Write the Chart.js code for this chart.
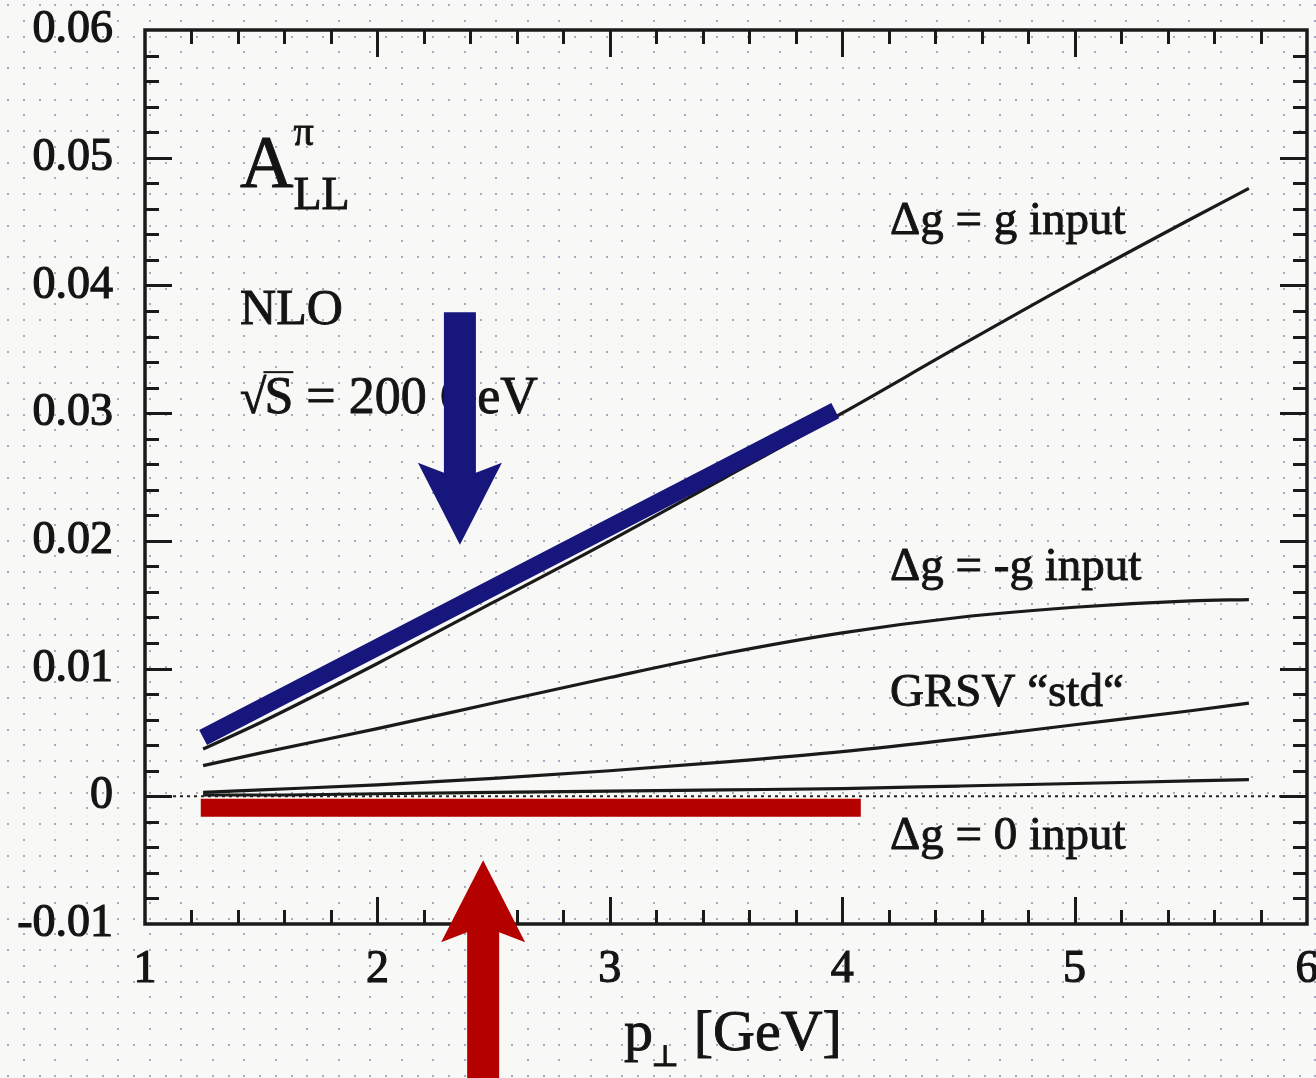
<!DOCTYPE html>
<html>
<head>
<meta charset="utf-8">
<script src="https://cdn.jsdelivr.net/npm/chart.js@4/dist/chart.umd.min.js"></script>
<style>
  html, body { margin: 0; padding: 0; background: #f8f8f6; }
  #wrap { width: 1316px; height: 1078px; }
</style>
</head>
<body>
<div id="wrap"><canvas id="c" width="1316" height="1078"></canvas></div>
<script>
// ---- data: A_LL^pi (NLO, sqrt(S) = 200 GeV) vs p_T ----
const pT        = [1.25, 1.5, 2, 2.5, 3, 3.5, 4, 4.5, 5, 5.5, 5.75];
const dgEqualG  = [0.0037, 0.0058, 0.0104, 0.0152, 0.0200, 0.0250, 0.0300, 0.0352, 0.0403, 0.0452, 0.0476];
const dgMinusG  = [0.0024, 0.0034, 0.0053, 0.0073, 0.0093, 0.0112, 0.0128, 0.0140, 0.0148, 0.0153, 0.0154];
const grsvStd   = [0.0003, 0.0005, 0.0009, 0.0014, 0.0020, 0.0027, 0.0035, 0.0045, 0.0056, 0.0067, 0.0073];
const dgZero    = [0.0001, 0.0001, 0.0002, 0.0003, 0.0004, 0.0005, 0.0006, 0.0008, 0.0010, 0.0012, 0.0013];

// highlight bands
const blueBandX = [1.25, 3.97];
const blueBandY = [0.0046, 0.0302];
const redBandX  = [1.24, 4.08];
const redBandY  = [-0.0009, -0.0009];

// axes
const xRange = [1, 6];
const yRange = [-0.01, 0.06];
const xTickValues = [1, 2, 3, 4, 5, 6];
const xTickLabels = ['1', '2', '3', '4', '5', '6'];
const yTickValues = [-0.01, 0, 0.01, 0.02, 0.03, 0.04, 0.05, 0.06];
const yTickLabels = ['-0.01', '0', '0.01', '0.02', '0.03', '0.04', '0.05', '0.06'];
const xMinorStep = 0.2;
const yMinorStep = 0.002;

// curve labels, anchored in data coordinates (left edge, baseline)
const curveLabelText = ['\u0394g = g input', '\u0394g = -g input', 'GRSV \u201cstd\u201c', '\u0394g = 0 input'];
const curveLabelX    = [4.206, 4.206, 4.206, 4.206];
const curveLabelY    = [0.0440, 0.0169, 0.0071, -0.0041];

// arrows: x position, tail and tip in data coordinates
const arrowX    = [2.355, 2.455];
const arrowTail = [0.0379, -0.0230];
const arrowTip  = [0.0197, -0.0050];
const arrowColor = ['#16167c', '#b50000'];

const SERIF = "'Liberation Serif', 'Times New Roman', 'DejaVu Serif', serif";
const INK = '#141414';

function pts(xs, ys) { return xs.map((v, i) => ({ x: v, y: ys[i] })); }
function lookup(values, labels, v) {
  for (let i = 0; i < values.length; i++) if (Math.abs(values[i] - v) < 1e-9) return labels[i];
  return '';
}

// dotted paper background
const paperPlugin = {
  id: 'paper',
  beforeDraw(chart) {
    const { ctx, width, height } = chart;
    ctx.save();
    ctx.fillStyle = '#f8f8f6';
    ctx.fillRect(0, 0, width, height);
    ctx.fillStyle = 'rgba(135,135,165,0.7)';
    const step = 15.75;
    let row = 0;
    for (let y = 5; y < height; y += step, row++) {
      const even = row % 2 === 0;
      const dx = even ? step : step * 2;
      for (let x = even ? 8 : 23.5; x < width; x += dx) {
        ctx.fillRect(Math.round(x) - 1, Math.round(y) - 1, 2, 2);
      }
    }
    ctx.restore();
  }
};

function drawArrow(ctx, xs, ys, i) {
  const px = xs.getPixelForValue(arrowX[i]);
  const pTail = ys.getPixelForValue(arrowTail[i]);
  const pTip = ys.getPixelForValue(arrowTip[i]);
  const dir = pTip > pTail ? 1 : -1;          // +1 pointing down
  const headLen = 82, headHalf = 42, shaftHalf = 16, notch = 10;
  const base = pTip - dir * headLen;
  ctx.save();
  ctx.fillStyle = arrowColor[i];
  ctx.beginPath();
  ctx.moveTo(px - shaftHalf, pTail);
  ctx.lineTo(px - shaftHalf, base + dir * notch);
  ctx.lineTo(px - headHalf, base);
  ctx.lineTo(px, pTip);
  ctx.lineTo(px + headHalf, base);
  ctx.lineTo(px + shaftHalf, base + dir * notch);
  ctx.lineTo(px + shaftHalf, pTail);
  ctx.closePath();
  ctx.fill();
  ctx.restore();
}

// frame, inward ticks, annotations, axis title and arrows
const decorPlugin = {
  id: 'decor',
  afterDraw(chart) {
    const { ctx, chartArea: a, scales: { x, y } } = chart;
    ctx.save();
    ctx.strokeStyle = '#1a1a1a';
    ctx.lineWidth = 3;
    ctx.lineCap = 'butt';
    const seg = (x1, y1, x2, y2) => { ctx.beginPath(); ctx.moveTo(x1, y1); ctx.lineTo(x2, y2); ctx.stroke(); };

    // x ticks (bottom and top)
    const nx = Math.round((xRange[1] - xRange[0]) / xMinorStep);
    for (let k = 1; k < nx; k++) {
      const v = xRange[0] + k * xMinorStep;
      const major = Math.abs(v - Math.round(v)) < 1e-6;
      const len = major ? 27 : 14;
      const px = Math.round(x.getPixelForValue(v)) + 0.5;
      seg(px, a.bottom, px, a.bottom - len);
      seg(px, a.top, px, a.top + len);
    }
    // y ticks (left and right)
    const ny = Math.round((yRange[1] - yRange[0]) / yMinorStep);
    for (let k = 1; k < ny; k++) {
      const v = yRange[0] + k * yMinorStep;
      const major = Math.abs(v * 100 - Math.round(v * 100)) < 1e-6;
      const len = major ? 27 : 14;
      const py = Math.round(y.getPixelForValue(v)) + 0.5;
      seg(a.left, py, a.left + len, py);
      seg(a.right, py, a.right - len, py);
    }
    ctx.lineWidth = 3.5;
    ctx.strokeRect(a.left, a.top, a.right - a.left, a.bottom - a.top);

    ctx.fillStyle = INK;
    ctx.strokeStyle = INK;
    ctx.lineWidth = 0.9;
    ctx.textAlign = 'left';
    ctx.textBaseline = 'alphabetic';
    const text = (s, px, py, size) => {
      ctx.font = size + 'px ' + SERIF;
      ctx.fillText(s, px, py);
      ctx.strokeText(s, px, py);
      return ctx.measureText(s).width;
    };

    // A_LL^pi
    const ax = x.getPixelForValue(1.409);
    const wA = text('A', ax, y.getPixelForValue(0.0477), 74);
    text('\u03c0', ax + wA, y.getPixelForValue(0.0510), 40);
    text('LL', ax + wA, y.getPixelForValue(0.0460), 46);

    // NLO
    text('NLO', ax, y.getPixelForValue(0.0370), 50);

    // sqrt(S) = 200 GeV
    const sb = y.getPixelForValue(0.0300);
    const wRoot = text('\u221a', ax, sb, 48);
    const wS = text('S', ax + wRoot - 2, sb, 52);
    ctx.save();
    ctx.lineWidth = 2;
    seg(ax + wRoot - 3, sb - 41, ax + wRoot - 2 + wS, sb - 41);
    ctx.restore();
    text(' = 200 GeV', ax + wRoot - 2 + wS, sb, 52);

    // curve labels
    for (let i = 0; i < curveLabelText.length; i++) {
      text(curveLabelText[i], x.getPixelForValue(curveLabelX[i]), y.getPixelForValue(curveLabelY[i]), 47);
    }

    // x-axis title: p_perp [GeV]
    ctx.font = '58px ' + SERIF;
    const wP = ctx.measureText('p').width;
    const wG = ctx.measureText(' [GeV]').width;
    ctx.font = '30px ' + SERIF;
    const wPerp = ctx.measureText('\u22a5').width;
    const total = wP + wPerp + wG;
    const tx = (a.left + a.right) / 2 + 8 - total / 2;
    const tb = a.bottom + 126;
    text('p', tx, tb, 58);
    text('\u22a5', tx + wP - 2, tb + 16, 30);
    text(' [GeV]', tx + wP + wPerp - 2, tb, 58);

    // arrows on top
    drawArrow(ctx, x, y, 0);
    drawArrow(ctx, x, y, 1);
    ctx.restore();
  }
};

const curveStyle = { borderColor: '#1a1a1a', borderWidth: 3.2, pointRadius: 0, cubicInterpolationMode: 'monotone', fill: false };
const tickFont = { family: SERIF, size: 46 };

new Chart(document.getElementById('c'), {
  type: 'line',
  data: {
    datasets: [
      { label: 'blue band', data: pts(blueBandX, blueBandY), borderColor: '#16167c', borderWidth: 17, pointRadius: 0, borderCapStyle: 'butt', order: 0 },
      { label: 'red band', data: pts(redBandX, redBandY), borderColor: '#b50000', borderWidth: 18, pointRadius: 0, borderCapStyle: 'butt', order: 1 },
      Object.assign({ label: '\u0394g = g input', data: pts(pT, dgEqualG), order: 2 }, curveStyle),
      Object.assign({ label: '\u0394g = -g input', data: pts(pT, dgMinusG), order: 3 }, curveStyle),
      Object.assign({ label: 'GRSV std', data: pts(pT, grsvStd), order: 4 }, curveStyle),
      Object.assign({ label: '\u0394g = 0 input', data: pts(pT, dgZero), order: 5 }, curveStyle),
      { label: 'zero', data: pts(xRange, [0, 0]), borderColor: '#222', borderWidth: 2, borderDash: [3, 4], pointRadius: 0, order: 6 }
    ]
  },
  options: {
    responsive: false,
    animation: false,
    devicePixelRatio: 1,
    layout: { padding: { top: 30, right: 9, left: 0, bottom: 0 } },
    plugins: { legend: { display: false }, tooltip: { enabled: false } },
    scales: {
      x: {
        type: 'linear', min: xRange[0], max: xRange[1],
        grid: { display: false, drawTicks: false },
        border: { display: false },
        ticks: {
          stepSize: 1, autoSkip: false, maxRotation: 0, padding: 18,
          color: INK, font: tickFont, textStrokeColor: INK, textStrokeWidth: 1.2,
          callback: v => lookup(xTickValues, xTickLabels, v)
        },
        afterFit(s) { s.height = 154; s.paddingLeft = 0; s.paddingRight = 0; }
      },
      y: {
        type: 'linear', min: yRange[0], max: yRange[1],
        grid: { display: false, drawTicks: false },
        border: { display: false },
        ticks: {
          stepSize: 0.01, autoSkip: false, padding: 32,
          color: INK, font: tickFont, textStrokeColor: INK, textStrokeWidth: 1.2,
          callback: v => lookup(yTickValues, yTickLabels, v)
        },
        afterFit(s) { s.width = 145; s.paddingTop = 0; s.paddingBottom = 0; }
      }
    }
  },
  plugins: [paperPlugin, decorPlugin]
});
</script>
</body>
</html>
